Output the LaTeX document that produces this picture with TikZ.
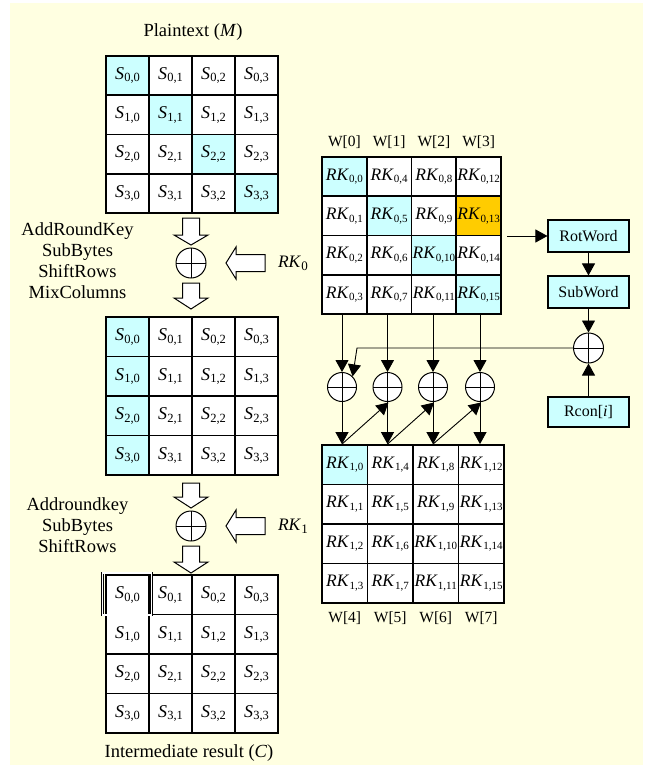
\documentclass[tikz,border=0pt]{standalone}
\usepackage{fontspec}
\setmainfont{Liberation Serif}
\usetikzlibrary{arrows.meta,calc}
\definecolor{bg}{RGB}{255,255,225}
\definecolor{cy}{RGB}{204,255,255}
\definecolor{gold}{RGB}{255,204,0}
\newcommand{\Sc}[1]{\textit{S}\kern0.3pt\raisebox{-2.5pt}{\fontsize{12.5}{12.5}\selectfont #1}}
\newcommand{\RKc}[1]{\textit{RK}\kern0.2pt\raisebox{-2.5pt}{\fontsize{11}{11}\selectfont #1}}
\begin{document}
\begin{tikzpicture}[x=1pt,y=-1pt,
  cell/.style={draw, line width=1.8pt, inner sep=0pt, font=\fontsize{18}{20}\selectfont},
  lbl/.style={inner sep=0pt, font=\fontsize{18.5}{21}\selectfont, align=center},
  wl/.style={inner sep=0pt, font=\fontsize{15.5}{18}\selectfont},
  box/.style={draw, line width=1.1pt, fill=cy, inner sep=0pt, minimum width=81pt, font=\fontsize{16}{19}\selectfont},
  oplus/.style={circle, draw, line width=1pt, fill=white, inner sep=0pt, minimum size=#1,
    path picture={\draw[line width=1pt] (path picture bounding box.north) -- (path picture bounding box.south)
      (path picture bounding box.west) -- (path picture bounding box.east);}},
  conn/.style={line width=0.9pt, -{Triangle[length=12pt,width=13pt]}},
  hollow/.style={draw, line width=1pt, fill=white, line join=miter}
]
\useasboundingbox (0,0) rectangle (649,765);
\fill[bg] (10,3) rectangle (643,765);

% ---------- left grids ----------
\foreach \r in {0,...,3}{
  \foreach \c in {0,...,3}{
    \def\fc{white}\ifnum\r=\c\def\fc{cy}\fi
    \node[cell, fill=\fc, minimum width=43pt, minimum height=39.25pt] (A\r\c) at ({106+43*(\c+0.5)},{56+39.25*(\r+0.5)}) {\Sc{\r,\c}};
    \def\fd{white}\ifnum\c=0\def\fd{cy}\fi
    \node[cell, fill=\fd, minimum width=43pt, minimum height=39.5pt] (B\r\c) at ({106+43*(\c+0.5)},{317+39.5*(\r+0.5)}) {\Sc{\r,\c}};
    \node[cell, fill=white, minimum width=43pt, minimum height=39.5pt] (C\r\c) at ({106+43*(\c+0.5)},{575+39.5*(\r+0.5)}) {\Sc{\r,\c}};
  }
}
\node[lbl] (pt) at (193,32) {Plaintext (\textit{M})};
\node[lbl] (ir) at (189,753) {Intermediate result (\textit{C})};
\draw[line width=0.7pt, double, double distance=1.2pt] (102.5,573) rectangle (151.5,615);

% round 0 operations
\node[lbl] (ops0) at (77.5,261) {AddRoundKey\\SubBytes\\ShiftRows\\MixColumns};
\node[oplus=30pt] (L0) at (191,263) {};
\draw[hollow] (182.5,218) -- (199.5,218) -- (199.5,235) -- (208,235) -- (191,245) -- (174,235) -- (182.5,235) -- cycle;
\draw[hollow] (182.5,283) -- (199.5,283) -- (199.5,298) -- (208,298) -- (191,309) -- (174,298) -- (182.5,298) -- cycle;
\draw[hollow] (226,263) -- (236,247) -- (236,254.5) -- (265,254.5) -- (265,271.5) -- (236,271.5) -- (236,279) -- cycle;
\node[inner sep=0pt, font=\fontsize{17.5}{20}\selectfont] (rk0) at (293,263) {\textit{RK}\kern0.3pt\raisebox{-3pt}{\fontsize{13}{13}\selectfont 0}};

% round 1 operations
\node[lbl] (ops1) at (77.5,525.5) {Addroundkey\\SubBytes\\ShiftRows};
\node[oplus=30pt] (L1) at (191,526) {};
\draw[hollow] (182.5,483) -- (199.5,483) -- (199.5,497) -- (208,497) -- (191,508) -- (174,497) -- (182.5,497) -- cycle;
\draw[hollow] (182.5,546) -- (199.5,546) -- (199.5,562) -- (208,562) -- (191,573) -- (174,562) -- (182.5,562) -- cycle;
\draw[hollow] (226,526) -- (236,510) -- (236,517.5) -- (265,517.5) -- (265,534.5) -- (236,534.5) -- (236,542) -- cycle;
\node[inner sep=0pt, font=\fontsize{17.5}{20}\selectfont] (rk1) at (293,526) {\textit{RK}\kern0.3pt\raisebox{-3pt}{\fontsize{13}{13}\selectfont 1}};

% ---------- right grids ----------
\foreach \r in {0,...,3}{
  \foreach \c in {0,...,3}{
    \pgfmathtruncatemacro\k{4*\c+\r}
    \def\fc{white}\ifnum\r=\c\def\fc{cy}\fi
    \ifnum\r=1 \ifnum\c=3 \def\fc{gold}\fi\fi
    \node[cell, fill=\fc, minimum width=44.75pt, minimum height=39.25pt, font=\fontsize{17.5}{20}\selectfont] (T\r\c) at ({322+44.75*(\c+0.5)},{157+39.25*(\r+0.5)}) {\RKc{0,\k}};
    \def\fd{white}\ifnum\r=0 \ifnum\c=0 \def\fd{cy}\fi\fi
    \node[cell, fill=\fd, minimum width=45.5pt, minimum height=39.5pt, font=\fontsize{17.5}{20}\selectfont] (U\r\c) at ({322+45.5*(\c+0.5)},{445+39.5*(\r+0.5)}) {\RKc{1,\k}};
  }
}
\foreach \c/\t in {0/W[0],1/W[1],2/W[2],3/W[3]}{
  \node[wl] (wt\c) at ({322+44.75*(\c+0.5)},142) {\t};
}
\foreach \c/\t in {0/W[4],1/W[5],2/W[6],3/W[7]}{
  \node[wl] (wb\c) at ({322+45.5*(\c+0.5)},618) {\t};
}

% xor row
\foreach \c/\x in {0/342,1/387.5,2/433,3/480}{
  \node[oplus=29pt] (X\c) at (\x,387) {};
  \draw[conn] (X\c |- T30.south) -- (X\c.north);
  \coordinate (D\c) at (X\c |- U00.north);
  \draw[conn] (X\c.south) -- (D\c);
}
\draw[conn] (D0) -- ($(X1.south)+(1,0.5)$);
\draw[conn] (D1) -- ($(X2.south)+(1,0.5)$);
\draw[conn] (D2) -- ($(X3.south)+(1,0.5)$);

% key schedule boxes
\node[box, minimum height=32pt] (rot) at (588.5,236) {RotWord};
\node[box, minimum height=32pt] (sub) at (588.5,292) {SubWord};
\node[oplus=30pt] (XR) at (588.5,348) {};
\node[box, minimum height=30pt] (rcon) at (588.5,412) {Rcon[\textit{i}]};
\coordinate (rs) at (507,236);
\draw[conn] (rs) -- (rot.west);
\draw[conn] (rot.south) -- (sub.north);
\draw[conn] (sub.south) -- (XR.north);
\draw[conn] (rcon.north) -- (XR.south);
\coordinate (bend) at (357,348);
\draw[conn] (XR.west) -- (bend) -- (X0.north east);
\end{tikzpicture}
\end{document}
